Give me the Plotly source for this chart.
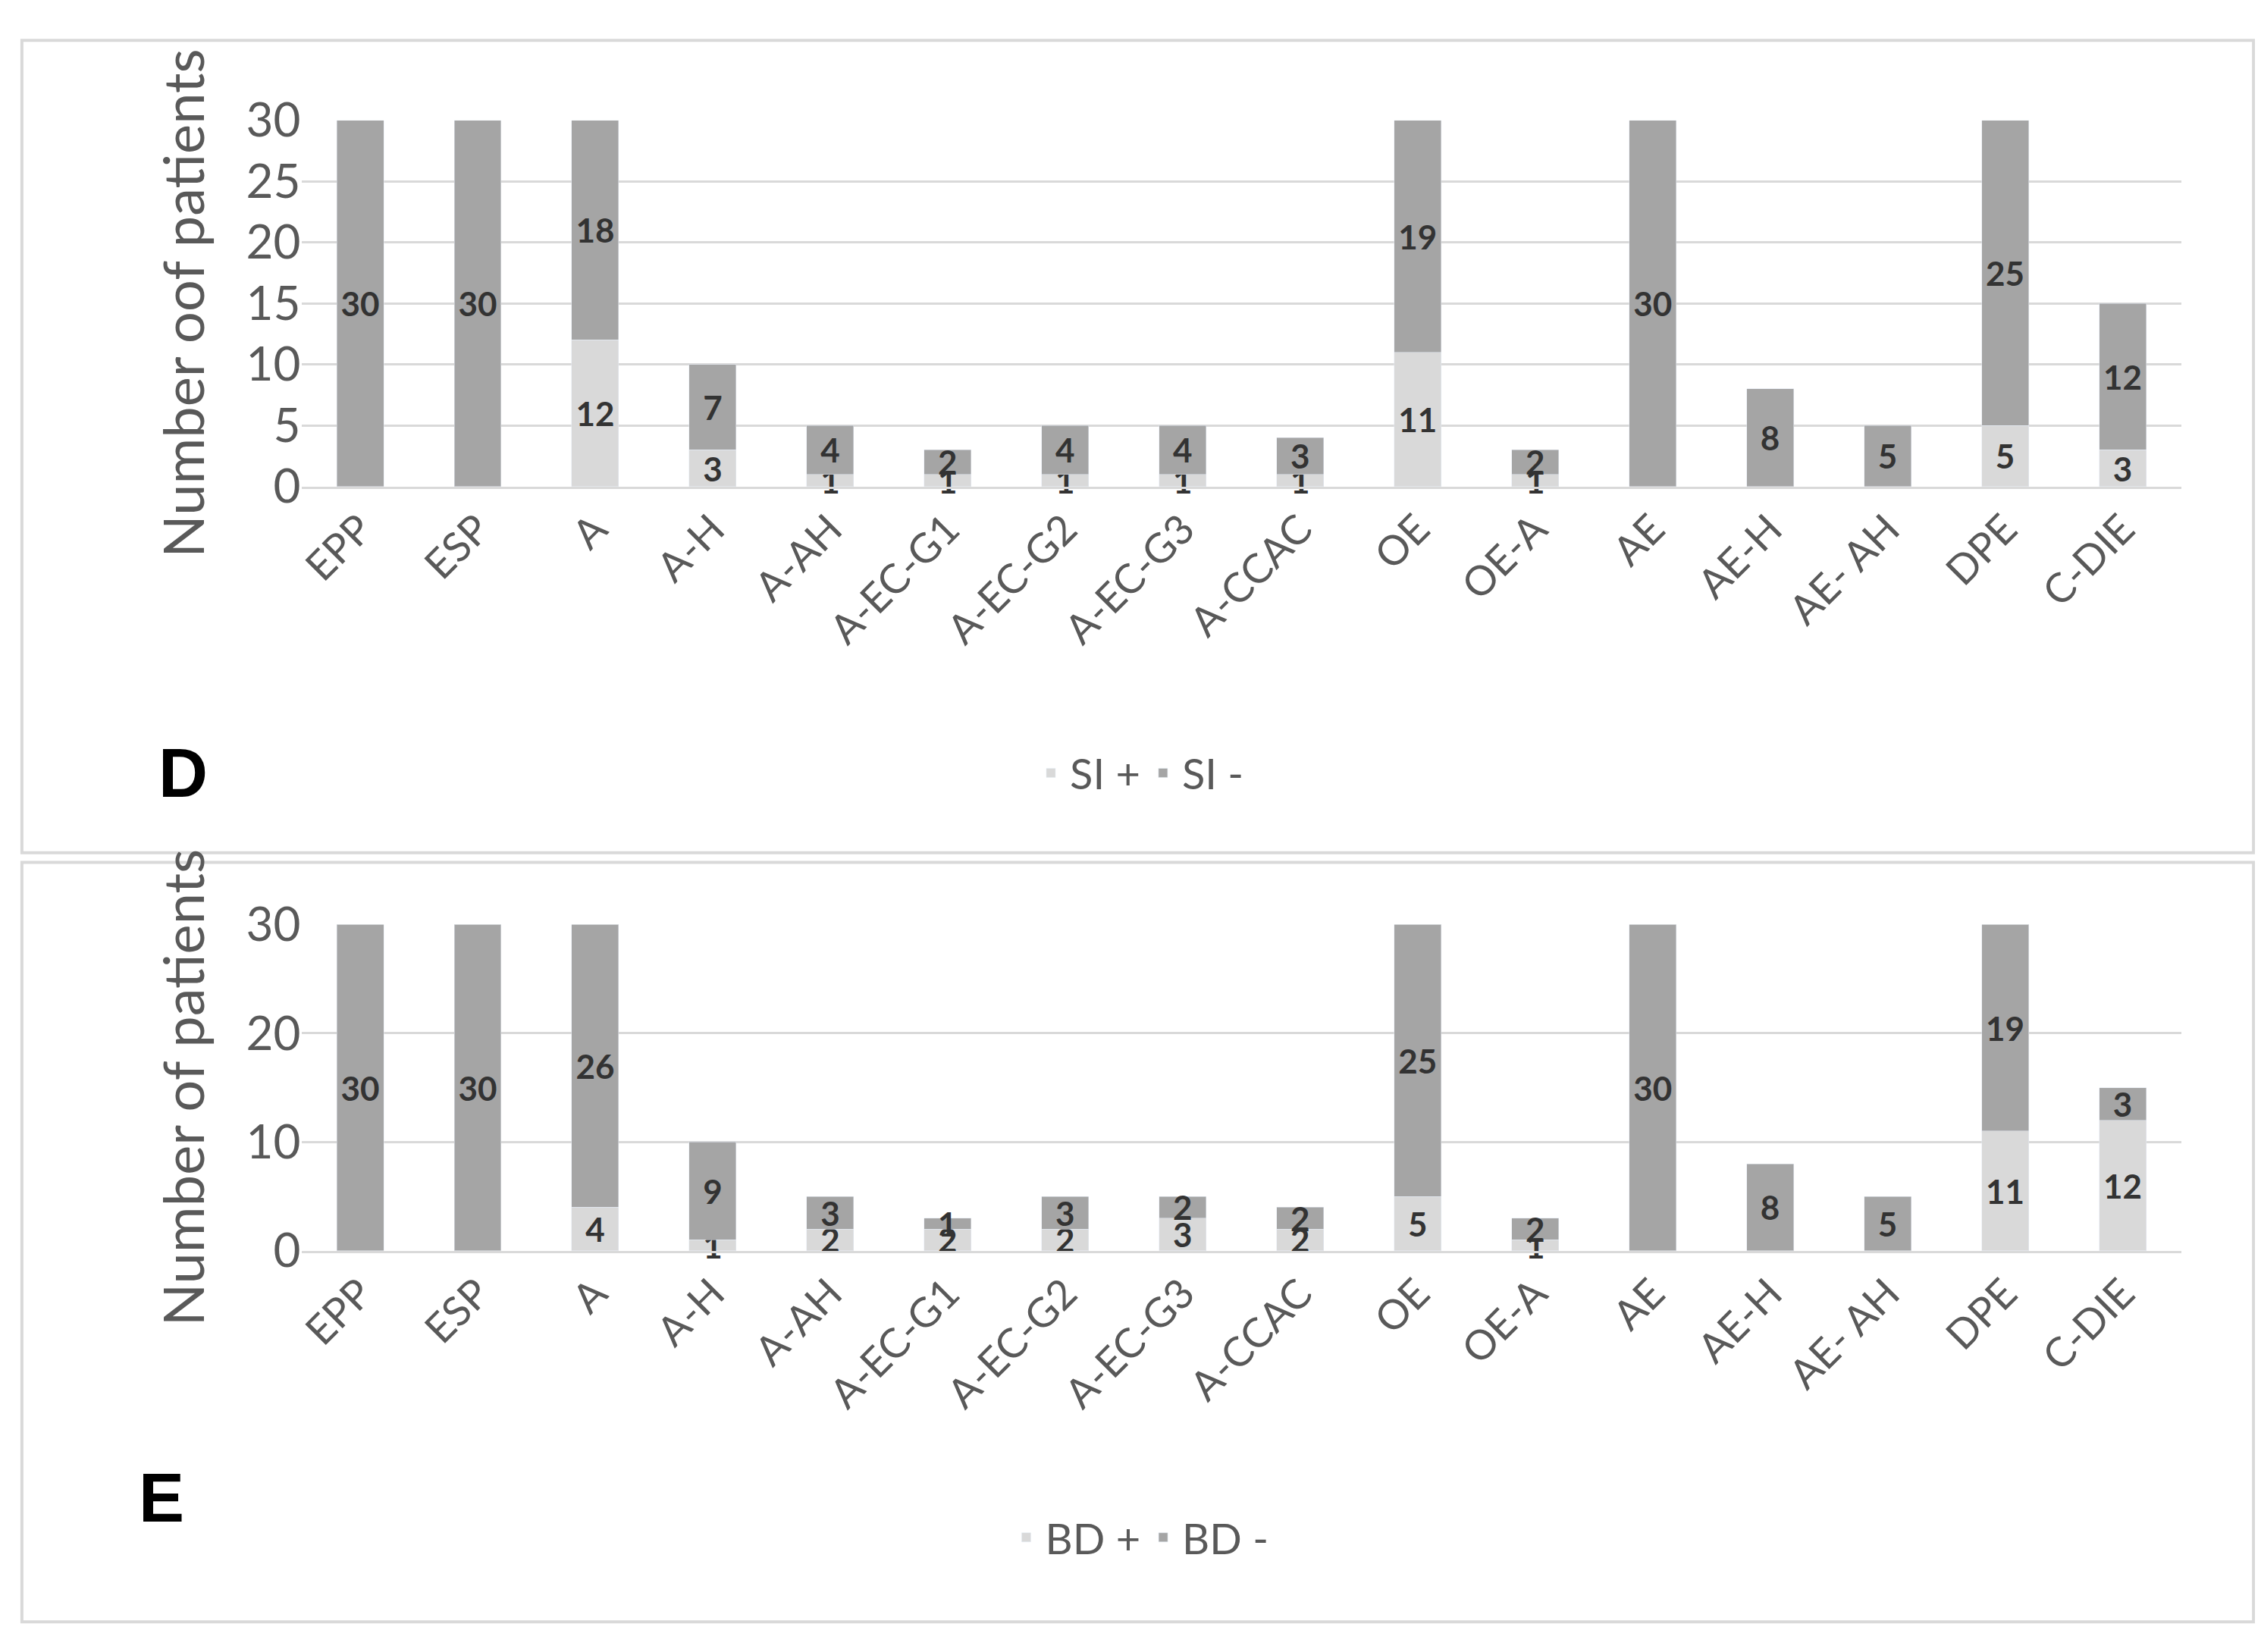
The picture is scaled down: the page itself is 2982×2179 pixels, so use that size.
import plotly.graph_objects as go

categories = ["EPP","ESP","A","A-H","A-AH","A-EC-G1","A-EC-G2","A-EC-G3","A-CCAC","OE","OE-A","AE","AE-H","AE- AH","DPE","C-DIE"]
si_pos = [0,0,12,3,1,1,1,1,1,11,1,0,0,0,5,3]
si_neg = [30,30,18,7,4,2,4,4,3,19,2,30,8,5,25,12]
bd_pos = [0,0,4,1,2,2,2,3,2,5,1,0,0,0,11,12]
bd_neg = [30,30,26,9,3,1,3,2,2,25,2,30,8,5,19,3]
y_ticks_d = [0,5,10,15,20,25,30]
y_ticks_e = [0,10,20,30]

LIGHT = "#d9d9d9"; DARK = "#a5a5a5"; TXT = "#333333"; TICK = "#595959"
FONT = "Lato"

def lab(v):
    return [str(x) if x else "" for x in v]

fig = go.Figure()
def add(vals, name, color, xa, ya, legend):
    fig.add_trace(go.Bar(x=categories, y=vals, name=name, marker_color=color,
                         text=lab(vals), textposition="inside", insidetextanchor="middle",
                         textangle=0, constraintext="none", cliponaxis=False,
                         textfont=dict(family=FONT, size=44, color=TXT, weight="bold"),
                         xaxis=xa, yaxis=ya, legend=legend))
add(si_pos, "SI +", LIGHT, "x", "y", "legend")
add(si_neg, "SI -", DARK, "x", "y", "legend")
add(bd_pos, "BD +", LIGHT, "x2", "y2", "legend2")
add(bd_neg, "BD -", DARK, "x2", "y2", "legend2")

xcommon = dict(domain=[0.128, 0.962], tickangle=-45, tickfont=dict(family=FONT, size=54, color=TICK),
               showline=True, linecolor=LIGHT, linewidth=3, ticks="")
ycommon = dict(range=[0, 30], tickfont=dict(family=FONT, size=62, color=TICK), gridcolor=LIGHT,
               gridwidth=3, zeroline=False, showline=False, ticklen=0)
fig.update_layout(
    width=2982, height=2179, margin=dict(l=0, r=0, t=0, b=0),
    plot_bgcolor="white", paper_bgcolor="white", barmode="stack", bargap=0.6,
    xaxis=dict(xcommon, anchor="y"),
    xaxis2=dict(xcommon, anchor="y2"),
    yaxis=dict(ycommon, domain=[0.7175, 0.947], tickvals=y_ticks_d, anchor="x",
               title=dict(text="Number oof patients", font=dict(family=FONT, size=74, color=TICK), standoff=30)),
    yaxis2=dict(ycommon, domain=[0.2386, 0.443], tickvals=y_ticks_e, anchor="x2",
                title=dict(text="Number of patients", font=dict(family=FONT, size=74, color=TICK), standoff=30)),
    legend=dict(orientation="h", x=0.5, xanchor="center", y=0.538, yanchor="middle", traceorder="normal",
                font=dict(family=FONT, size=56, color=TICK), itemwidth=40),
    legend2=dict(orientation="h", x=0.5, xanchor="center", y=0.059, yanchor="middle", traceorder="normal",
                 font=dict(family=FONT, size=56, color=TICK), itemwidth=40),
    shapes=[
        dict(type="rect", xref="paper", yref="paper", x0=0.004, x1=0.994, y0=0.488, y1=0.997,
             line=dict(color=LIGHT, width=4)),
        dict(type="rect", xref="paper", yref="paper", x0=0.004, x1=0.994, y0=0.006, y1=0.482,
             line=dict(color=LIGHT, width=4)),
    ],
    annotations=[
        dict(text="<b>D</b>", xref="paper", yref="paper", x=0.064, y=0.538, showarrow=False,
             font=dict(family="Liberation Sans", size=90, color="black")),
        dict(text="<b>E</b>", xref="paper", yref="paper", x=0.055, y=0.059, showarrow=False,
             font=dict(family="Liberation Sans", size=90, color="black")),
    ],
)
fig.write_html("out.html")
